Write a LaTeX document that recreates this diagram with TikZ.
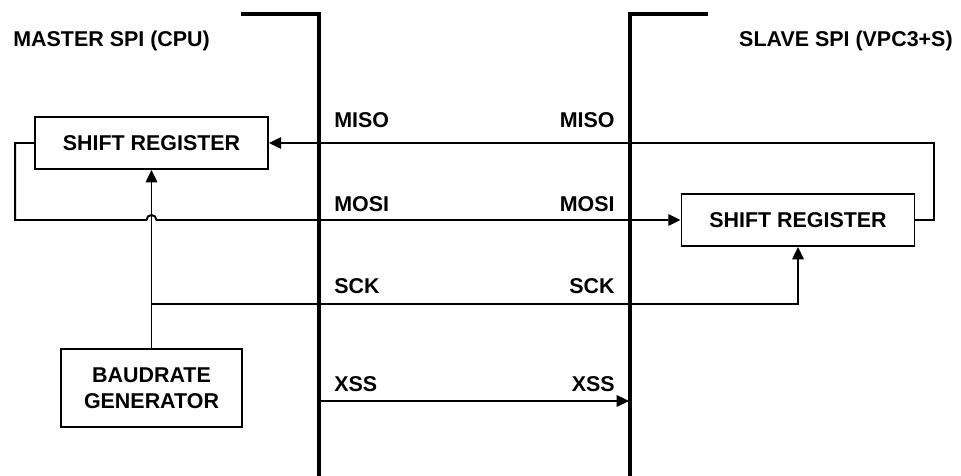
\documentclass[tikz,border=0pt]{standalone}
\usepackage{fontspec}
\setmainfont{Liberation Sans}
\usetikzlibrary{arrows.meta}

\begin{document}
\begin{tikzpicture}[x=0.02cm, y=-0.02cm,
    font=\fontsize{12.2}{14.7}\selectfont\bfseries,
    chip/.style={line width=1.9pt},
    sig/.style={line width=1.1pt},
    tip/.style={-{Triangle[length=7pt,width=6.5pt]}},
    lbl/.style={inner sep=0pt},
    regbox/.style={draw, line width=1.1pt, inner sep=0pt, align=center,
        minimum width=4.66cm, minimum height=1.04cm}]
    \useasboundingbox (0,0) rectangle (961,476);

    % chip edges
    \coordinate (mchip) at (319,14);
    \coordinate (schip) at (630,14);
    \draw[chip] (241,14) -- (mchip) -- (319,476);
    \draw[chip] (708,14) -- (schip) -- (630,476);

    \node[lbl, anchor=base west] (master) at (13,47) {MASTER SPI (CPU)};
    \node[lbl, anchor=base east] (slave) at (953,47) {SLAVE SPI (VPC3+S)};

    \node[regbox] (mshift) at (151.5,143) {SHIFT REGISTER};
    \node[regbox] (sshift) at (798,220) {SHIFT REGISTER};
    \node[regbox, minimum width=3.62cm, minimum height=1.56cm] (bgen) at (151.5,388) {BAUDRATE\\GENERATOR};

    \coordinate (hop) at (mshift.south |- sshift.west);
    \coordinate (sck) at (mshift.south |- 0,304);
    \coordinate (xssA) at (mchip |- 0,401);
    \coordinate (xssB) at (629,401);

    \draw[sig, tip] (sshift.east) -- ++(19,0) |- (mshift.east);
    \draw[sig, tip] (mshift.west) -- ++(-19,0) |- ([xshift=-0.1cm]hop)
        arc[start angle=180, end angle=360, radius=5] -- (sshift.west);
    \draw[sig, tip] (bgen.north) -- (mshift.south);
    \draw[sig, tip] (sck) -| (sshift.south);
    \draw[sig, tip] (xssA) -- (xssB);

    \foreach \y/\signame in {128/MISO, 212/MOSI, 294/SCK, 392/XSS}{
        \node[lbl, anchor=base west] (l\signame) at (334,\y) {\signame};
        \node[lbl, anchor=base east] (r\signame) at (615,\y) {\signame};
    }
\end{tikzpicture}
\end{document}
